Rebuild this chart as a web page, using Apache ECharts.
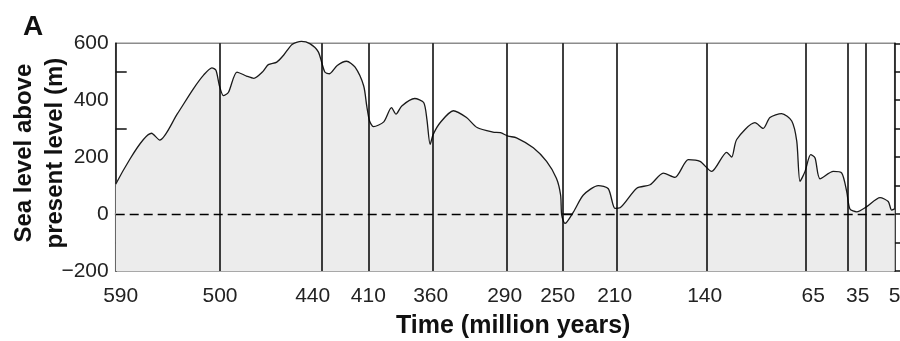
<!DOCTYPE html>
<html>
<head>
<meta charset="utf-8">
<script src="https://cdn.jsdelivr.net/npm/echarts@6/dist/echarts.min.js"></script>
<style>
  html, body { margin: 0; padding: 0; background: #fff; }
  #chart { width: 900px; height: 341px; }
</style>
</head>
<body>
<div id="chart"></div>
<script>
// Time-scale boundaries (Ma) and the length each interval occupies on the time axis
const boundaryAges = [590, 500, 440, 410, 360, 290, 250, 210, 140, 65, 35, 23, 5];
const intervalSpans = [104.3, 101.7, 46.6, 64.4, 74, 56, 54, 90, 98.6, 42.4, 18, 29];

// Labelled ages on the time axis
const tickAges = [590, 500, 440, 410, 360, 290, 250, 210, 140, 65, 35, 5];

// Sea-level axis labels and minor ticks (m)
const levelLabels = [-200, 0, 200, 400, 600];
const levelMinorTicks = [-100, 100, 300, 500];

// Sea-level curve: age (Ma) and height above present level (m)
const seaLevelAges = [
  590, 559, 552, 537, 523, 514, 507, 503.5, 500.5, 498, 495, 490, 484, 480, 475, 471.5,
  466.5, 462.5, 457.5, 452, 447, 442, 438, 435, 430, 424, 418.5, 413, 411, 409, 406,
  398, 392, 388.5, 384, 374, 367, 364.5, 362, 359.5, 353, 340.5, 328, 318, 303, 296,
  289, 283, 271, 261.5, 254.5, 251.5, 250.7, 248.3, 242, 234.7, 223.6, 216.2, 211.3,
  207.4, 194.4, 184, 173.8, 164.7, 154.3, 145.2, 136.2, 124.8, 121, 117.2, 103.3, 97,
  91.9, 83, 75.3, 71.5, 69, 65.2, 61.2, 58.1, 54.6, 45.2, 39.2, 35.7, 33.5, 29, 22.4,
  14.1, 9, 6.9, 5
];
const seaLevelMetres = [
  105, 284, 260, 351, 440, 489, 514, 505, 451, 416, 428, 499, 484, 477, 499, 525,
  534, 558, 596, 607, 599, 570, 499, 493, 522, 537, 516, 451, 380, 327, 307,
  324, 374, 351, 380, 406, 392, 333, 245, 280, 321, 363, 339, 304, 288, 286,
  274, 268, 233, 185, 126, 67, -4, -33, 8, 67, 100, 89, 20,
  22, 91, 103, 144, 129, 191, 185, 150, 217, 200, 262, 321, 301,
  339, 353, 327, 256, 115, 150, 209, 197, 124, 150, 144, 79, 18, 8, 26,
  58, 44, 14, 18
];

// Cumulative axis position of every boundary
const stops = [0];
intervalSpans.forEach(s => stops.push(stops[stops.length - 1] + s));

// Piecewise-linear mapping from age to position along the time axis
function ageToAxis(age) {
  const last = boundaryAges.length - 2;
  for (let i = 0; i <= last; i++) {
    const a0 = boundaryAges[i], a1 = boundaryAges[i + 1];
    if ((age <= a0 && age >= a1) || i === last) {
      return stops[i] + (a0 - age) / (a0 - a1) * (stops[i + 1] - stops[i]);
    }
  }
}

// Small horizontal nudges of some tick labels away from their boundary line
const labelNudge = { 590: 5, 440: -9, 250: -5, 360: -2, 290: -2, 210: -2, 140: -2, 65: 8, 35: 10 };
const labelPositions = tickAges.map(a => ageToAxis(a) + (labelNudge[a] || 0));

const FONT = '"Liberation Sans", Arial, Helvetica, sans-serif';

const curve = seaLevelAges.map((a, i) => [ageToAxis(a), seaLevelMetres[i]]);
const boundaryLines = boundaryAges.slice(1, -1).map(a => ({ xAxis: ageToAxis(a) }));

const chart = echarts.init(document.getElementById('chart'), null, { renderer: 'canvas' });
chart.setOption({
  animation: false,
  backgroundColor: '#fff',
  textStyle: { fontFamily: FONT },
  grid: {
    left: 115.7, right: 5.3, top: 43.3, bottom: 70,
    containLabel: false,
    outerBoundsMode: 'none',
    show: true, borderColor: '#8c8c8c', borderWidth: 1.5, backgroundColor: 'transparent'
  },
  graphic: [{
    type: 'text', left: 23, top: 13,
    style: { text: 'A', font: 'bold 28px ' + FONT, fill: '#111' }
  }],
  xAxis: {
    type: 'value',
    min: 0,
    max: stops[stops.length - 1],
    axisLine: { show: true, lineStyle: { color: '#7a7a7a', width: 2 } },
    axisTick: { show: false },
    splitLine: { show: false },
    axisLabel: {
      customValues: labelPositions,
      showMinLabel: true,
      showMaxLabel: true,
      hideOverlap: false,
      margin: 15,
      fontSize: 21,
      color: '#222',
      fontFamily: FONT,
      formatter: v => {
        const i = labelPositions.findIndex(p => Math.abs(p - v) < 0.01);
        return i >= 0 ? String(tickAges[i]) : '';
      }
    },
    name: 'Time (million years)',
    nameLocation: 'middle',
    nameGap: 43,
    nameMoveOverlap: false,
    nameTextStyle: { fontSize: 25, fontWeight: 'bold', color: '#111', fontFamily: FONT, padding: [0, 0, 0, 16] }
  },
  yAxis: [{
    type: 'value',
    position: 'left',
    min: -200, max: 600, interval: 200,
    axisLine: { show: true, lineStyle: { color: '#111', width: 1.5 } },
    axisTick: { show: true, inside: true, length: 11, customValues: levelMinorTicks, lineStyle: { color: '#111', width: 1.5 } },
    splitLine: { show: false },
    axisLabel: {
      customValues: levelLabels,
      margin: 7,
      fontSize: 21,
      color: '#222',
      fontFamily: FONT,
      formatter: v => (v < 0 ? '\u2212' + Math.abs(v) : String(v))
    },
    name: 'Sea level above\npresent level (m)',
    nameLocation: 'middle',
    nameRotate: 90,
    nameGap: 45,
    nameMoveOverlap: false,
    nameTextStyle: { fontSize: 24, fontWeight: 'bold', color: '#111', fontFamily: FONT, lineHeight: 31, padding: [0, 0, 0, 8] }
  }, {
    type: 'value',
    position: 'right',
    min: -200, max: 600, interval: 100,
    axisLine: { show: true, lineStyle: { color: '#111', width: 1.5 } },
    axisTick: { show: true, inside: false, length: 6, lineStyle: { color: '#111', width: 1.5 } },
    axisLabel: { show: false },
    splitLine: { show: false }
  }],
  series: [{
    type: 'line',
    data: curve,
    smooth: 0.25,
    symbol: 'none',
    clip: false,
    lineStyle: { color: '#1a1a1a', width: 1.3 },
    areaStyle: { color: '#ececec', opacity: 1, origin: 'start' },
    markLine: {
      silent: true,
      animation: false,
      symbol: ['none', 'none'],
      label: { show: false },
      lineStyle: { color: '#000', width: 1.5, type: 'solid' },
      data: boundaryLines.concat([{
        yAxis: 0,
        lineStyle: { color: '#000', width: 1.4, type: [9, 5] }
      }])
    }
  }]
});
</script>
</body>
</html>
